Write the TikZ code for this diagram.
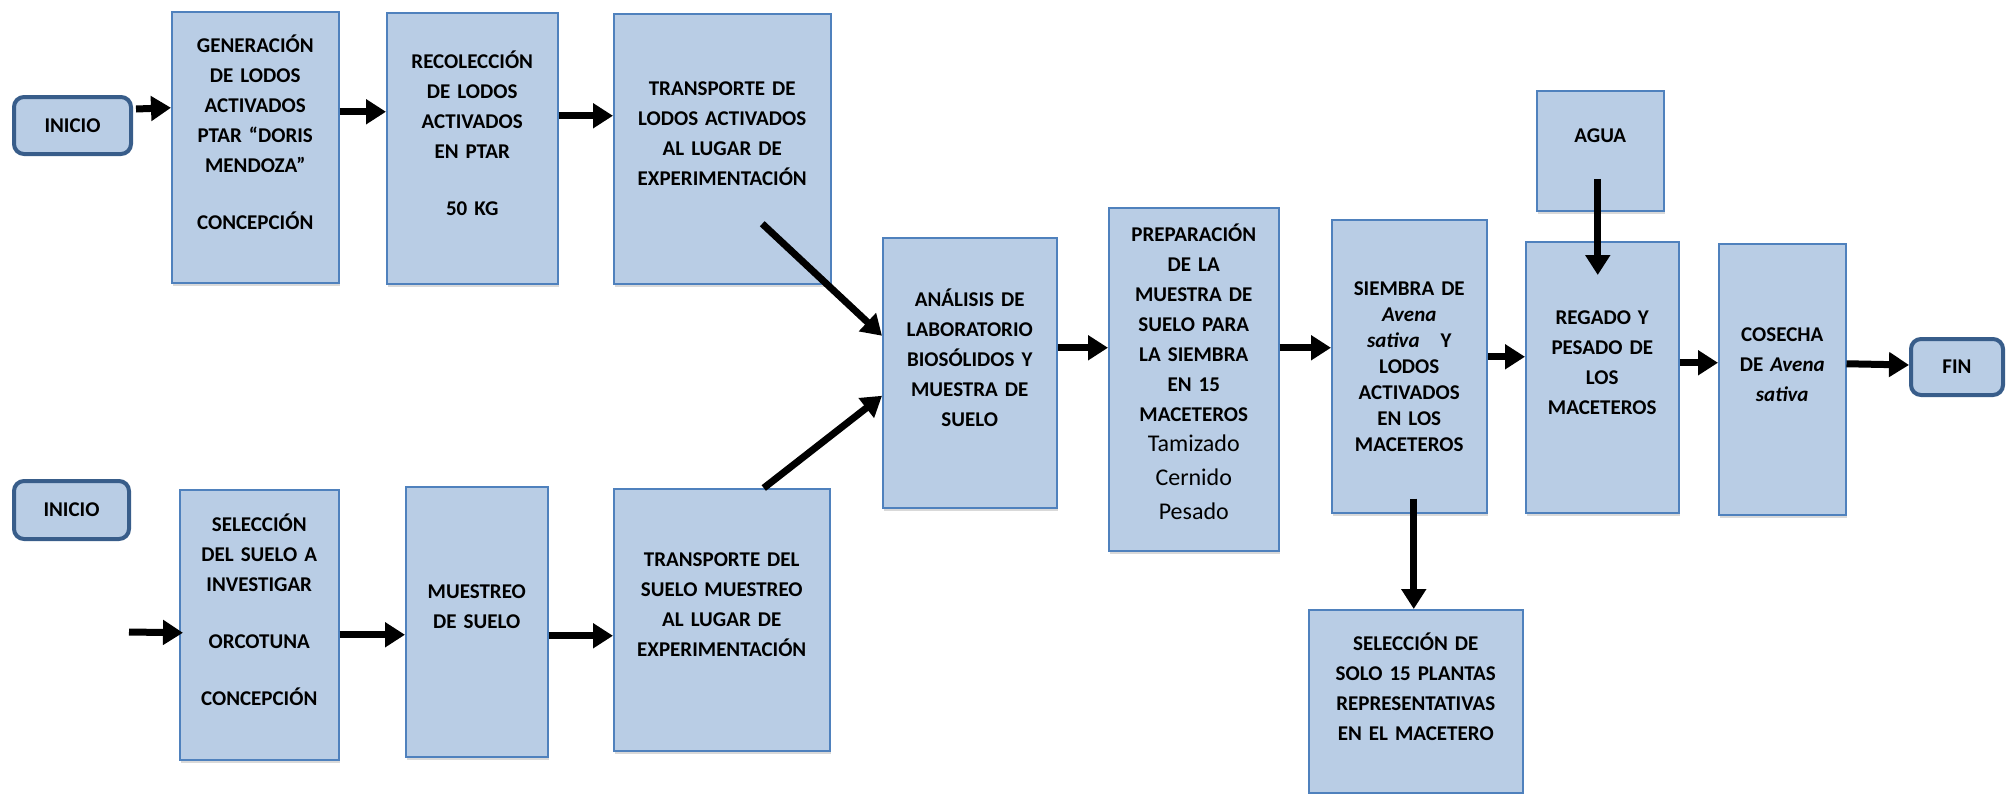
\documentclass[tikz,border=0pt]{standalone}
\usepackage{fontspec}
\setmainfont{Carlito}
\usetikzlibrary{arrows.meta,shadows}

\definecolor{boxfill}{RGB}{185,205,229}
\definecolor{boxline}{RGB}{79,129,189}
\definecolor{termline}{RGB}{56,93,138}

\newcommand{\boxfont}{\fontsize{21}{30}\selectfont\bfseries}
\newcommand{\thinfont}{\fontsize{24}{30}\selectfont\mdseries}
\newcommand{\liftby}[1]{\endgraf\vspace{#1}}

\begin{document}
    \begin{tikzpicture}[
        x = 1pt,
        y = -1pt,
        box/.style 2 args = {
            draw = boxline, fill = boxfill, line width = 1.5pt,
            anchor = north west, align = center, font = \boxfont,
            inner xsep = 0pt, text width = #1, minimum height = #2,
            drop shadow = {shadow xshift = 1.5pt, shadow yshift = -3pt, opacity = .3}
        },
        lift/.style = {execute at end node = {\liftby{#1}}},
        lift/.default = 30pt,
        term/.style = {
            draw = termline, fill = boxfill, line width = 4pt,
            rounded corners = 10pt, anchor = north west, font = \boxfont,
            minimum width = 117pt, minimum height = 57pt
        },
        arr/.style = {
            -{Triangle[length = 20pt, width = 24pt]},
            line width = 7pt
        }
    ]
        \useasboundingbox (0,0) rectangle (2006,793);

        % lodos activados
        \node[term] (ini1) at (12,95) {INICIO};
        \node[box={167pt}{271pt}, lift] (gen) at (171,11) {GENERACIÓN\\ DE LODOS\\ ACTIVADOS\\ PTAR “DORIS\\ MENDOZA”\\[27pt] CONCEPCIÓN};
        \node[box={171pt}{271pt}, lift] (rec) at (386,12) {RECOLECCIÓN\\ DE LODOS\\ ACTIVADOS\\ EN PTAR\\[27pt] 50 KG};
        \node[box={217pt}{270pt}, lift] (tlod) at (613,13) {TRANSPORTE DE\\ LODOS ACTIVADOS\\ AL LUGAR DE\\ EXPERIMENTACIÓN};

        % suelo
        \node[term, minimum width=115pt, minimum height=58pt] (ini2) at (12,479) {INICIO};
        \coordinate (in2) at (129,632);
        \node[box={159pt}{270pt}, lift] (sel) at (179,489) {SELECCIÓN\\ DEL SUELO A\\ INVESTIGAR\\[27pt] ORCOTUNA\\[27pt] CONCEPCIÓN};
        \node[box={142pt}{270pt}, lift] (mue) at (405,486) {MUESTREO\\ DE SUELO};
        \node[box={216pt}{262pt}, lift] (tsue) at (613,488) {TRANSPORTE DEL\\ SUELO MUESTREO\\ AL LUGAR DE\\ EXPERIMENTACIÓN};

        % experimento
        \node[box={174pt}{270pt}, lift] (ana) at (882,237) {ANÁLISIS DE\\ LABORATORIO\\ BIOSÓLIDOS Y\\ MUESTRA DE\\ SUELO};
        \node[box={170pt}{343pt}, lift=14pt] (pre) at (1108,207) {PREPARACIÓN\\ DE LA\\ MUESTRA DE\\ SUELO PARA\\ LA SIEMBRA\\ EN 15\\ MACETEROS\\ \thinfont Tamizado\\[4pt] Cernido\\[4pt] Pesado};
        \node[box={155pt}{293pt}, font=\fontsize{21}{26}\selectfont\bfseries] (sie) at (1331,219) {SIEMBRA DE\\ \textit{Avena}\\ \textit{sativa}\ \ \ Y\\ LODOS\\ ACTIVADOS\\ EN LOS\\ MACETEROS};
        \node[box={214pt}{183pt}, lift] (sol) at (1308,609) {SELECCIÓN DE\\ SOLO 15 PLANTAS\\ REPRESENTATIVAS\\ EN EL MACETERO};
        \node[box={127pt}{120pt}, lift] (agua) at (1536,90) {AGUA};
        \node[box={153pt}{271pt}, lift] (reg) at (1525,241) {REGADO Y\\ PESADO DE\\ LOS\\ MACETEROS};
        \node[box={127pt}{271pt}, lift] (cos) at (1718,243) {COSECHA\\ DE \textit{Avena}\\ \textit{sativa}};
        \node[term, minimum width=92pt, minimum height=56pt] (fin) at (1909,337) {FIN};

        % flechas
        \draw[arr] ([shift={(3pt,16.5pt)}]ini1.east) -- ([yshift=39.5pt]gen.west);
        \draw[arr] ([yshift=35.5pt]gen.east) -- ([yshift=36.5pt]rec.west);
        \draw[arr] ([yshift=32.5pt]rec.east) -- ([yshift=33pt]tlod.west);
        \draw[arr] ([shift={(40pt,-75pt)}]tlod.center) -- ([yshift=37pt]ana.west);
        \draw[arr] (in2) -- ([shift={(4pt,-8pt)}]sel.west);
        \draw[arr] ([yshift=-10pt]sel.east) -- ([yshift=-13pt]mue.west);
        \draw[arr] ([yshift=-14pt]mue.east) -- ([yshift=-16pt]tsue.west);
        \draw[arr] ([xshift=42pt]tsue.north) -- ([yshift=-23pt]ana.west);
        \draw[arr] ([yshift=25pt]ana.east) -- ([yshift=31.5pt]pre.west);
        \draw[arr] ([yshift=31.5pt]pre.east) -- ([yshift=18.5pt]sie.west);
        \draw[arr] ([shift={(4.5pt,15pt)}]sie.south) -- ([xshift=-2pt]sol.north);
        \draw[arr] ([yshift=9.5pt]sie.east) -- ([yshift=20.5pt]reg.west);
        \draw[arr] ([shift={(-2.5pt,-28pt)}]agua.center) -- ([shift={(-4.5pt,-34pt)}]reg.north);
        \draw[arr] ([yshift=14.5pt]reg.east) -- ([yshift=16.5pt]cos.west);
        \draw[arr] ([yshift=15.5pt]cos.east) -- ([yshift=2pt]fin.west);
    \end{tikzpicture}
\end{document}
